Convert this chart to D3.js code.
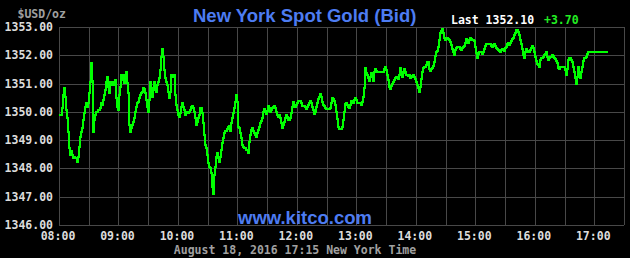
<!DOCTYPE html>
<html>
<head>
<meta charset="utf-8">
<script src="https://cdnjs.cloudflare.com/ajax/libs/d3/7.8.5/d3.min.js"></script>
<style>
  body { margin: 0; background: #000; }
  svg { display: block; }
  .mono { font-family: "DejaVu Sans Mono", monospace; font-weight: bold; font-size: 11.5px; }
  .blue { font-family: "Liberation Sans", Arial, sans-serif; font-weight: bold; font-size: 18.5px; fill: #4d7cf2; }
</style>
</head>
<body>
<svg id="chart" width="630" height="258"></svg>
<script>
// session window and one bid reading per minute, starting at startTime
var day = "2016-08-18";
var startTime = "08:00";
var endTime = "17:30";
var bids = [
  1349.90, 1349.90, 1349.90, 1350.13, 1350.60, 1350.83, 1350.54, 1350.07, 1349.77, 1349.30,
  1348.71, 1348.48, 1348.60, 1348.48, 1348.36, 1348.42, 1348.36, 1348.36, 1348.24, 1348.42,
  1348.77, 1349.12, 1349.30, 1349.42, 1349.71, 1349.95, 1350.18, 1350.30, 1350.18, 1350.30,
  1350.66, 1351.07, 1351.72, 1351.10, 1349.30, 1349.71, 1349.89, 1350.01, 1350.01, 1350.05,
  1350.05, 1350.13, 1350.30, 1350.24, 1350.42, 1350.60, 1350.77, 1351.07, 1351.22, 1350.89,
  1350.66, 1351.07, 1350.95, 1351.07, 1351.07, 1350.95, 1351.13, 1350.77, 1350.48, 1350.18,
  1350.07, 1350.60, 1350.89, 1351.30, 1351.30, 1351.13, 1351.01, 1351.30, 1351.42, 1351.01,
  1350.66, 1349.54, 1349.30, 1349.42, 1349.54, 1349.65, 1349.77, 1350.01, 1350.18, 1350.30,
  1350.36, 1350.48, 1350.60, 1350.66, 1350.71, 1350.83, 1350.80, 1350.66, 1350.42, 1350.18,
  1350.01, 1350.42, 1351.07, 1350.83, 1350.54, 1350.77, 1351.07, 1350.89, 1350.71, 1350.95,
  1351.07, 1351.19, 1351.48, 1351.95, 1352.21, 1351.95, 1351.48, 1351.19, 1351.07, 1350.95,
  1350.71, 1350.48, 1350.71, 1351.30, 1351.22, 1351.27, 1351.30, 1350.60, 1350.24, 1350.07,
  1349.89, 1349.83, 1349.95, 1350.18, 1350.30, 1350.18, 1350.07, 1349.89, 1349.95, 1350.01,
  1349.95, 1350.01, 1350.07, 1350.18, 1350.22, 1350.13, 1350.01, 1349.77, 1349.54, 1349.65,
  1349.77, 1349.89, 1350.13, 1350.13, 1349.95, 1349.60, 1349.18, 1348.83, 1348.71, 1348.48,
  1348.18, 1348.06, 1348.00, 1347.83, 1347.36, 1347.10, 1347.77, 1348.06, 1348.42, 1348.54,
  1348.36, 1348.24, 1348.42, 1348.65, 1348.89, 1349.06, 1349.24, 1349.33, 1349.33, 1349.38,
  1349.45, 1349.50, 1349.45, 1349.33, 1349.60, 1349.77, 1349.95, 1350.13, 1350.36, 1350.60,
  1350.36, 1349.48, 1349.42, 1349.24, 1349.06, 1348.83, 1348.75, 1348.71, 1348.71, 1348.65,
  1348.65, 1348.54, 1348.95, 1349.18, 1349.36, 1349.42, 1349.33, 1349.24, 1349.18, 1349.12,
  1349.24, 1349.36, 1349.48, 1349.60, 1349.68, 1349.80, 1350.01, 1350.09, 1350.01, 1349.92,
  1350.04, 1350.20, 1350.13, 1350.01, 1350.07, 1350.13, 1350.18, 1350.20, 1350.13, 1350.01,
  1349.89, 1349.83, 1349.89, 1349.77, 1349.60, 1349.42, 1349.54, 1349.65, 1349.77, 1349.89,
  1349.83, 1349.71, 1349.71, 1349.77, 1349.95, 1350.18, 1350.36, 1350.21, 1350.18, 1350.24,
  1350.32, 1350.37, 1350.37, 1350.40, 1350.30, 1350.22, 1350.22, 1350.21, 1350.16, 1350.09,
  1350.16, 1350.24, 1350.32, 1350.40, 1350.30, 1350.18, 1350.06, 1349.92, 1350.00, 1350.16,
  1350.32, 1350.44, 1350.53, 1350.62, 1350.53, 1350.36, 1350.26, 1350.21, 1350.12, 1350.10,
  1350.10, 1350.10, 1350.10, 1350.12, 1350.32, 1350.50, 1350.44, 1350.40, 1350.24, 1349.98,
  1349.74, 1349.48, 1349.39, 1349.39, 1349.39, 1349.39, 1349.48, 1349.71, 1350.00, 1350.27,
  1350.30, 1350.24, 1350.18, 1350.12, 1350.24, 1350.40, 1350.36, 1350.33, 1350.42, 1350.50,
  1350.42, 1350.33, 1350.32, 1350.32, 1350.30, 1350.24, 1350.36, 1350.53, 1350.83, 1351.54,
  1351.36, 1351.30, 1351.18, 1351.10, 1351.24, 1351.38, 1351.24, 1351.10, 1351.42, 1351.51,
  1351.45, 1351.42, 1351.42, 1351.42, 1351.42, 1351.42, 1351.42, 1351.42, 1351.51, 1351.60,
  1351.48, 1351.30, 1351.13, 1350.89, 1350.80, 1350.92, 1351.00, 1351.04, 1351.13, 1351.18,
  1351.22, 1351.18, 1351.15, 1351.30, 1351.56, 1351.42, 1351.25, 1351.36, 1351.50, 1351.42,
  1351.32, 1351.30, 1351.27, 1351.30, 1351.19, 1351.24, 1351.27, 1351.30, 1351.24, 1351.16,
  1351.04, 1350.95, 1350.83, 1350.71, 1350.89, 1351.16, 1351.42, 1351.56, 1351.59, 1351.59,
  1351.66, 1351.77, 1351.77, 1351.53, 1351.44, 1351.50, 1351.56, 1351.62, 1351.77, 1351.99,
  1352.13, 1352.16, 1352.30, 1352.54, 1352.78, 1352.86, 1352.93, 1352.78, 1352.62, 1352.54,
  1352.58, 1352.62, 1352.58, 1352.54, 1352.46, 1352.36, 1352.22, 1352.10, 1352.01, 1352.10,
  1352.19, 1352.25, 1352.30, 1352.30, 1352.28, 1352.22, 1352.19, 1352.25, 1352.30, 1352.34,
  1352.42, 1352.58, 1352.48, 1352.42, 1352.54, 1352.62, 1352.58, 1352.54, 1352.54, 1352.50,
  1352.30, 1352.07, 1351.92, 1352.04, 1352.13, 1352.10, 1352.10, 1352.04, 1352.13, 1352.22,
  1352.34, 1352.40, 1352.40, 1352.40, 1352.40, 1352.40, 1352.34, 1352.30, 1352.36, 1352.40,
  1352.34, 1352.27, 1352.22, 1352.19, 1352.16, 1352.13, 1352.19, 1352.22, 1352.19, 1352.16,
  1352.25, 1352.30, 1352.39, 1352.42, 1352.36, 1352.42, 1352.50, 1352.58, 1352.62, 1352.70,
  1352.78, 1352.89, 1352.91, 1352.83, 1352.70, 1352.54, 1352.39, 1352.22, 1352.01, 1351.92,
  1352.13, 1352.22, 1352.16, 1352.13, 1352.13, 1352.19, 1352.25, 1352.32, 1352.25, 1352.13,
  1351.95, 1351.80, 1351.68, 1351.64, 1351.60, 1351.84, 1351.92, 1351.92, 1351.95, 1352.01,
  1352.04, 1352.10, 1351.95, 1351.84, 1351.89, 1351.93, 1351.95, 1352.01, 1351.99, 1351.92,
  1351.87, 1351.80, 1351.71, 1351.56, 1351.53, 1351.58, 1351.60, 1351.60, 1351.60, 1351.57,
  1351.48, 1351.30, 1351.53, 1351.68, 1351.84, 1351.89, 1351.92, 1351.84, 1351.75, 1351.60,
  1351.42, 1351.19, 1350.97, 1351.24, 1351.60, 1351.36, 1351.20, 1351.42, 1351.60, 1351.80,
  1351.92, 1351.92, 1351.95, 1352.04, 1352.10, 1352.10, 1352.10, 1352.10, 1352.10, 1352.10,
  1352.10, 1352.10, 1352.10, 1352.10, 1352.10, 1352.10, 1352.10, 1352.10, 1352.10, 1352.10,
  1352.10, 1352.10, 1352.10, 1352.10, 1352.10
];
var priceTicks = [1346, 1347, 1348, 1349, 1350, 1351, 1352, 1353];
var change = 3.70;
var titleText = "New York Spot Gold (Bid)";
var unitText = "$USD/oz";
var stampText = "August 18, 2016 17:15 New York Time";
var siteText = "www.kitco.com";

var svg = d3.select("#chart");
var parseTime = d3.timeParse("%Y-%m-%d %H:%M");
var t0 = parseTime(day + " " + startTime),
    t1 = parseTime(day + " " + endTime);

var series = bids.map(function(v, i) { return { time: d3.timeMinute.offset(t0, i), bid: v }; });

// plot box (don't use "top" as a global name, it's window.top)
var plotL = 59, plotR = 624, plotT = 27, plotB = 225;

var x = d3.scaleTime().domain([t0, t1]).range([plotL, plotR]);
var y = d3.scaleLinear().domain([d3.min(priceTicks), d3.max(priceTicks)]).range([plotB, plotT]);

svg.append("rect").attr("width", 630).attr("height", 258).attr("fill", "#000");

// grid: one line per dollar, one per half hour
var grid = svg.append("g").attr("stroke", "#484848").attr("stroke-width", 1).attr("shape-rendering", "crispEdges");
grid.selectAll(".h").data(priceTicks).enter().append("line")
    .attr("x1", plotL).attr("x2", plotR)
    .attr("y1", function(d) { return Math.round(y(d)) + 0.5; })
    .attr("y2", function(d) { return Math.round(y(d)) + 0.5; });
grid.selectAll(".v").data(d3.timeMinute.every(30).range(t0, d3.timeMinute.offset(t1, 1))).enter().append("line")
    .attr("y1", plotT).attr("y2", plotB)
    .attr("x1", function(d) { return Math.round(x(d)) + 0.5; })
    .attr("x2", function(d) { return Math.round(x(d)) + 0.5; });

// price labels
svg.selectAll(".ylab").data(priceTicks).enter().append("text")
    .attr("class", "mono")
    .attr("x", 53).attr("y", function(d) { return y(d) + 4; })
    .attr("text-anchor", "end").attr("fill", "#dcdcdc")
    .text(function(d) { return d3.format(".2f")(d); });

// hour labels
var fmtHour = d3.timeFormat("%H:%M");
svg.selectAll(".xlab").data(d3.timeHour.range(t0, t1)).enter().append("text")
    .attr("class", "mono")
    .attr("x", function(d) { return x(d) - 1; }).attr("y", 239.5)
    .attr("text-anchor", "middle").attr("fill", "#dcdcdc")
    .text(function(d) { return fmtHour(d); });

svg.append("text").attr("class", "blue").attr("x", 238).attr("y", 224).text(siteText);

var line = d3.line()
    .x(function(d) { return x(d.time); })
    .y(function(d) { return y(d.bid); })
    .curve(d3.curveStepAfter);

svg.append("path")
    .datum(series)
    .attr("fill", "none")
    .attr("stroke", "#00ff00")
    .attr("stroke-width", 2)
    .attr("shape-rendering", "crispEdges")
    .attr("d", line);

// header / footer text
svg.append("text").attr("class", "mono").attr("x", 17.5).attr("y", 17.5).attr("fill", "#a0a0a0").text(unitText);
svg.append("text").attr("class", "blue").attr("x", 193).attr("y", 22).text(titleText);
svg.append("text").attr("class", "mono").attr("x", 451).attr("y", 24).attr("fill", "#ffffff")
    .text("Last " + d3.format(".2f")(bids[bids.length - 1]));
svg.append("text").attr("class", "mono").attr("x", 544).attr("y", 24).attr("fill", "#22ee22")
    .text((change >= 0 ? "+" : "") + d3.format(".2f")(change));
svg.append("text").attr("class", "mono").attr("x", 295).attr("y", 253.5).attr("text-anchor", "middle")
    .attr("fill", "#a0a0a0").text(stampText);
</script>
</body>
</html>
